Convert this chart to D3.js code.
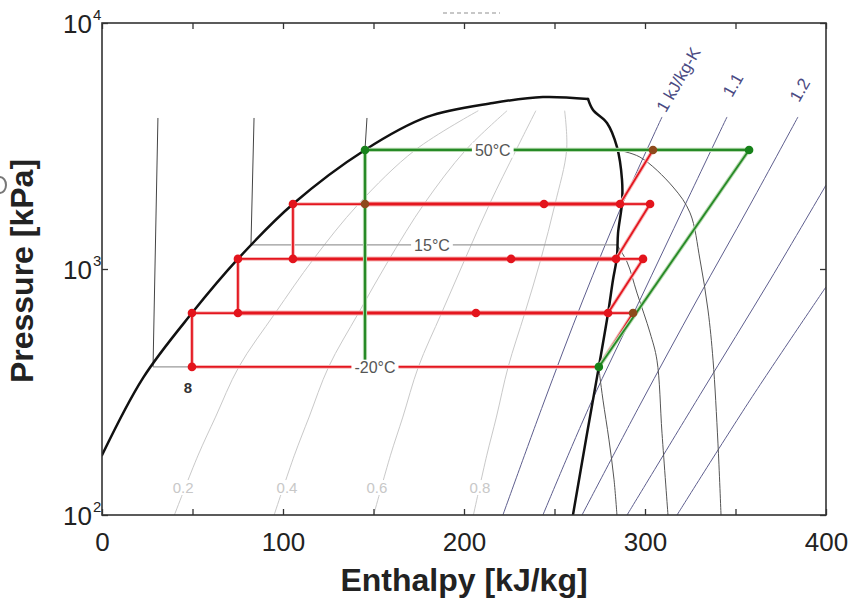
<!DOCTYPE html>
<html><head><meta charset="utf-8">
<script src="https://cdn.jsdelivr.net/npm/d3@7"></script>
<style>body{margin:0;background:#fff;} svg{display:block;font-family:"Liberation Sans",Arial,sans-serif;}</style>
</head><body><svg id="c" width="848" height="599"></svg>
<script>
// ---------- data (enthalpy kJ/kg, pressure kPa) ----------
const xTicks = [0, 50, 100, 150, 200, 250, 300, 350, 400];
const xTickLabels = [0, 100, 200, 300, 400];
const yTicks = [100, 1000, 10000];
const yTickExps = ["2", "3", "4"];

const domeLiquid = [[0,175],[22.7,361],[49.7,662],[75.1,1099],[105.5,1837],[145.3,3048],[179.6,4151],[216,4730],[243.6,5002],[268.5,4913]];
const domeVapor = [[268.5,4913],[271.3,4428],[279,3921],[284.5,3134],[287.3,2301],[287.3,1855],[285.1,1400],[284.5,1119],[282.3,902],[279.6,662],[274.5,400],[268,215],[260.2,100]];

const qualityLabels = ["0.2", "0.4", "0.6", "0.8"];
const quality02 = [[40.0,100],[53.1,175],[62.7,250],[75.6,400],[95.7,662],[116.9,1099],[141.7,1837],[173.1,3048],[207.9,4400]];
const quality04 = [[95.1,100],[106.3,175],[114.4,250],[125.2,400],[141.7,662],[158.8,1099],[177.9,1837],[201.0,3048],[223.8,4400]];
const quality06 = [[150.1,100],[159.4,175],[166.2,250],[174.8,400],[187.6,662],[200.6,1099],[214.1,1837],[228.8,3048],[239.7,4400]];
const quality08 = [[205.2,100],[212.6,175],[217.9,250],[224.4,400],[233.6,662],[242.5,1099],[250.3,1837],[256.7,3048],[255.6,4400]];
const qualityLabelPos = [[44.8,129],[102.2,129],[151.9,129],[208.8,129]];

const isoLabels = ["-20°C", "15°C", "50°C"];
const isoLiquid_m20 = [[30.9,4111],[28.2,400]];
const isoDome_m20 = [[28.2,400],[274.5,400]];
const isoVapor_m20 = [[274.5,400],[275.1,364],[276.8,293],[280.1,202],[282.9,139],[284.5,100]];
const isoLiquid_15 = [[84.0,4111],[82.3,1254]];
const isoDome_15 = [[82.3,1254],[284.5,1254]];
const isoVapor_15 = [[284.5,1254],[290.1,1067],[295.6,798],[302.8,550],[306.6,426],[309.4,215],[312.7,100]];
const isoLiquid_50 = [[146.4,4111],[145.3,3048]];
const isoDome_50 = [[145.3,3048],[284.5,3048]];
const isoVapor_50 = [[284.5,3048],[297.2,2851],[315.5,2154],[324.9,1690],[330.4,1089],[334.8,681],[337.6,426],[340.3,196],[342.0,100]];
const isoLabelPos = [[150.8,400],[182.3,1254],[215.9,3048]];

const entropyLabels = ["1 kJ/kg-K", "1.1", "1.2"];
const entropy10 = [[309.4,4150],[287.3,1820],[265.7,748],[243.6,280],[221.5,100]];
const entropy11 = [[345.3,4150],[322.1,1820],[297.2,748],[269.6,280],[243.6,100]];
const entropy12 = [[384.5,4150],[358.0,1820],[328.7,748],[297.2,280],[265.2,100]];
const entropy13 = [[400,2193],[369.1,902],[330.4,308],[290.1,100]];
const entropy14 = [[400,846],[358.0,293],[317.7,100]];
const entropyLabelPos = [[311.5,4300],[348.1,4955],[385.1,4730]];

// cycle (red: multi-stage, green: single-stage)
const redThick = [
  [[145.3,1837],[286.2,1837]],
  [[105.5,1099],[284.0,1099]],
  [[75.1,662],[279.6,662]]
];
const redThin = [
  [[105.5,1837],[145.3,1837]], [[286.2,1837],[302.8,1837]],
  [[75.1,1099],[105.5,1099]], [[284.0,1099],[298.9,1099]],
  [[49.7,662],[75.1,662]], [[279.6,662],[293.4,662]],
  [[49.7,400],[274.5,400]],
  [[105.5,1837],[105.5,1099]], [[75.1,1099],[75.1,662]], [[49.7,662],[49.7,400]],
  [[284.0,1099],[302.8,1837]], [[279.6,662],[298.9,1099]], [[274.5,400],[293.4,662]], [[286.2,1837],[304.4,3048]]
];
const greenThick = [[[145.3,3048],[357.5,3048]], [[145.3,3048],[145.3,400]]];
const greenThin = [[[274.5,400],[357.5,3048]]];
const redDots = [[105.5,1837],[244.2,1837],[286.2,1837],[302.8,1837],[75.1,1099],[105.5,1099],[226,1099],[284,1099],[298.9,1099],[49.7,662],[75.1,662],[206.6,662],[279.6,662],[49.7,400]];
const brownDots = [[145.3,1837],[304.4,3048],[293.4,662]];
const greenDots = [[145.3,3048],[357.5,3048],[274.5,400]];
const stateLabel = {text:"8", pos:[47.5,328]};

// ---------- drawing ----------
const svg = d3.select("#c");
const x = d3.scaleLinear().domain([0,400]).range([102,826]);
const y = d3.scaleLog().domain([100,10000]).range([515,23]);
const straight = d3.line().x(d=>x(d[0])).y(d=>y(d[1]));
const smooth = d3.line().x(d=>x(d[0])).y(d=>y(d[1])).curve(d3.curveCatmullRom.alpha(0.5));

svg.append("rect").attr("width",848).attr("height",599).attr("fill","#fff");
svg.append("defs").append("clipPath").attr("id","clip").append("rect")
  .attr("x",102).attr("y",23).attr("width",724).attr("height",492);
const g = svg.append("g").attr("clip-path","url(#clip)");

// quality lines
[quality02,quality04,quality06,quality08].forEach(q=>{
  g.append("path").attr("d",smooth(q)).attr("fill","none").attr("stroke","#c9c9c9").attr("stroke-width",1);
});
// isentropes
[entropy10,entropy11,entropy12,entropy13,entropy14].forEach(s=>{
  g.append("path").attr("d",smooth(s)).attr("fill","none").attr("stroke","#5e5e8e").attr("stroke-width",1);
});
// isotherms
[[isoLiquid_m20,isoDome_m20,isoVapor_m20],[isoLiquid_15,isoDome_15,isoVapor_15],[isoLiquid_50,isoDome_50,isoVapor_50]].forEach(t=>{
  g.append("path").attr("d",straight(t[0])).attr("fill","none").attr("stroke","#444").attr("stroke-width",1);
  g.append("path").attr("d",straight(t[1])).attr("fill","none").attr("stroke","#9a9a9a").attr("stroke-width",1.3);
  g.append("path").attr("d",smooth(t[2])).attr("fill","none").attr("stroke","#555").attr("stroke-width",1);
});
// dome
[domeLiquid, domeVapor].forEach(d=>{
  g.append("path").attr("d",smooth(d)).attr("fill","none").attr("stroke","#111").attr("stroke-width",2.5)
    .attr("stroke-linejoin","round").attr("stroke-linecap","round");
});

// quality labels
qualityLabels.forEach((t,i)=>{
  const p = qualityLabelPos[i];
  const tx = g.append("text").attr("x",x(p[0])).attr("y",y(p[1])).attr("dy","0.35em")
    .attr("text-anchor","middle").attr("font-size",15).attr("fill","#c8c8c8").text(t);
  const b = tx.node().getBBox();
  g.insert("rect",()=>tx.node()).attr("x",b.x-1).attr("y",b.y+1).attr("width",b.width+2).attr("height",b.height-2).attr("fill","#fff");
});

// cycle lines
function seg(list, color, w, halo){
  list.forEach(s=>{
    if(halo) g.append("path").attr("d",straight(s)).attr("stroke",halo).attr("stroke-width",w+2).attr("fill","none");
    g.append("path").attr("d",straight(s)).attr("stroke",color).attr("stroke-width",w).attr("fill","none");
  });
}
seg(redThin,"#e4161f",1.8,"#f6b9b9");
seg(redThick,"#e4161f",3,"#f6b9b9");
seg(greenThin,"#268a26",1.8,"#b7d9b0");
seg(greenThick,"#268a26",2.2,"#b7d9b0");

// isotherm labels with white background
isoLabels.forEach((t,i)=>{
  const p = isoLabelPos[i];
  const tx = g.append("text").attr("x",x(p[0])).attr("y",y(p[1])).attr("dy","0.36em")
    .attr("text-anchor","middle").attr("font-size",16).attr("fill","#555").text(t);
  const b = tx.node().getBBox();
  g.insert("rect",()=>tx.node()).attr("x",b.x-3).attr("y",b.y+1).attr("width",b.width+6).attr("height",b.height-2).attr("fill","#fff");
});

// dots
function dots(list,color){
  g.selectAll(null).data(list).enter().append("circle")
    .attr("cx",d=>x(d[0])).attr("cy",d=>y(d[1])).attr("r",4.3).attr("fill",color);
}
dots(redDots,"#e3141c");
dots(brownDots,"#8e4a1c");
dots(greenDots,"#17821a");

// state label
svg.append("text").attr("x",x(stateLabel.pos[0])).attr("y",y(stateLabel.pos[1])).attr("dy","0.35em")
  .attr("text-anchor","middle").attr("font-size",15).attr("font-weight","bold").attr("fill","#333").text(stateLabel.text);

// entropy labels
entropyLabels.forEach((t,i)=>{
  const p = entropyLabelPos[i];
  svg.append("text").attr("transform",`translate(${x(p[0])},${y(p[1])}) rotate(-60)`)
    .attr("font-size",17).attr("fill","#4a4a82").text(t);
});

// axes
const fmtX = d => xTickLabels.includes(d) ? String(d) : "";
const axB = svg.append("g").attr("transform","translate(0,515)")
  .call(d3.axisBottom(x).tickValues(xTicks).tickSize(-6).tickPadding(18).tickFormat(fmtX));
const axT = svg.append("g").attr("transform","translate(0,23)")
  .call(d3.axisTop(x).tickValues(xTicks).tickSize(-6).tickFormat(""));
const axL = svg.append("g").attr("transform","translate(102,0)")
  .call(d3.axisLeft(y).tickValues(yTicks).tickSize(-6).tickFormat(""));
const axR = svg.append("g").attr("transform","translate(826,0)")
  .call(d3.axisRight(y).tickValues(yTicks).tickSize(-6).tickFormat(""));
[axB,axT,axL,axR].forEach(a=>{
  a.select(".domain").remove();
  a.selectAll(".tick line").attr("stroke","#333").attr("stroke-width",1.3);
});
axB.selectAll(".tick text").attr("font-size",26).attr("fill","#222").attr("font-family","'Liberation Sans',Arial,sans-serif");

yTicks.forEach((v,i)=>{
  const yy = y(v);
  svg.append("text").attr("x",92).attr("y",yy+10).attr("text-anchor","end").attr("font-size",26).attr("fill","#222").text("10");
  svg.append("text").attr("x",93).attr("y",yy-3).attr("font-size",15).attr("fill","#222").text(yTickExps[i]);
});

// frame
svg.append("rect").attr("x",102).attr("y",23).attr("width",724).attr("height",492)
  .attr("fill","none").attr("stroke","#333").attr("stroke-width",1.6);

// titles
svg.append("text").attr("x",464).attr("y",591).attr("text-anchor","middle").attr("font-size",32)
  .attr("font-weight","bold").attr("fill","#222").text("Enthalpy [kJ/kg]");
svg.append("text").attr("transform","translate(33,271) rotate(-90)").attr("text-anchor","middle").attr("font-size",32)
  .attr("font-weight","bold").attr("fill","#222").text("Pressure [kPa]");

// faint remnants at the edges (decorative marks, not text)
svg.append("line").attr("x1",443).attr("x2",500).attr("y1",13).attr("y2",13)
  .attr("stroke","#b5b5b5").attr("stroke-width",1.5).attr("stroke-dasharray","4,3");
svg.append("path").attr("d","M0,177 A6,8 0 0 1 0,193").attr("fill","none").attr("stroke","#777").attr("stroke-width",2);
</script></body></html>
